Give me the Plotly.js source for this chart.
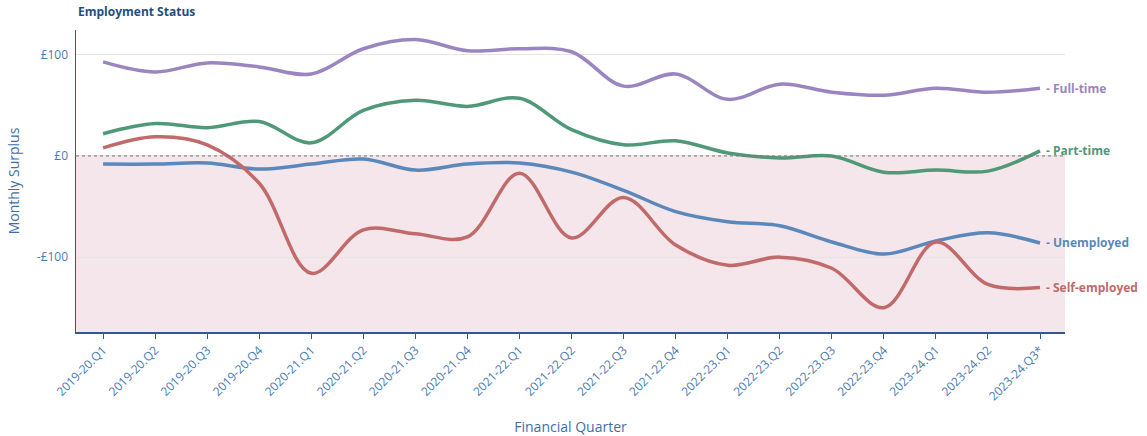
<!DOCTYPE html>
<html>
<head>
<meta charset="utf-8">
<script src="https://cdn.plot.ly/plotly-3.0.1.min.js"></script>
<style>
  body { margin: 0; }
  #chart { width: 1147px; height: 436px; }
</style>
</head>
<body>
<div id="chart"></div>
<script>
// Quarter labels along the x axis
const quarters = [
    '2019-20.Q1', '2019-20.Q2', '2019-20.Q3', '2019-20.Q4',
    '2020-21.Q1', '2020-21.Q2', '2020-21.Q3', '2020-21.Q4',
    '2021-22.Q1', '2021-22.Q2', '2021-22.Q3', '2021-22.Q4',
    '2022-23.Q1', '2022-23.Q2', '2022-23.Q3', '2022-23.Q4',
    '2023-24.Q1', '2023-24.Q2', '2023-24.Q3*'
];

// Monthly surplus (£) per employment status
const fullTime = [93, 83, 92, 88, 81, 106, 115, 104, 106, 103, 69, 81, 56, 71, 63, 60, 67, 63, 67];
const partTime = [22, 32, 28, 34, 13, 45, 55, 49, 57, 26, 11, 15, 3, -2, 0, -16, -14, -15, 5];
const unemployed = [-8, -8, -7, -13, -8, -3, -14, -8, -7, -16, -34, -55, -65, -69, -85, -97, -84, -76, -86];
const selfEmployed = [8, 19, 11, -27, -116, -73, -77, -80, -17, -81, -41, -88, -108, -100, -111, -150, -85, -127, -130];

const yTicks = [-100, 0, 100];
const yTickLabels = ['-£100', '£0', '£100'];

const series = [
    { name: 'Full-time', y: fullTime, color: '#9b85c1' },
    { name: 'Part-time', y: partTime, color: '#4f9878' },
    { name: 'Unemployed', y: unemployed, color: '#5a88bb' },
    { name: 'Self-employed', y: selfEmployed, color: '#c06a6a' }
];

const traces = series.map(s => ({
    x: quarters,
    y: s.y,
    name: s.name,
    type: 'scatter',
    mode: 'lines',
    line: { color: s.color, width: 3.5, shape: 'spline', smoothing: 1 },
    hoverinfo: 'x+y'
}));

// End-of-line labels
const labels = series.map(s => ({
    x: quarters.length - 1,
    y: s.y[s.y.length - 1],
    xref: 'x',
    yref: 'y',
    text: '- ' + s.name,
    showarrow: false,
    xanchor: 'left',
    xshift: 4,
    font: { family: 'Open Sans', size: 12, color: s.color, weight: 'bold' }
}));

labels.push({
    x: 0, y: 1, xref: 'paper', yref: 'paper',
    xanchor: 'left', yanchor: 'bottom', yshift: 8,
    text: '<b>Employment Status</b>',
    showarrow: false,
    font: { family: 'Open Sans', size: 12, color: '#1f4f82' }
});

const layout = {
    width: 1147,
    height: 436,
    margin: { l: 76, r: 82, t: 30, b: 104 },
    paper_bgcolor: '#ffffff',
    plot_bgcolor: '#ffffff',
    showlegend: false,
    font: { family: 'Open Sans', color: '#3d6fa6' },
    xaxis: {
        type: 'category',
        range: [-0.52, 18.48],
        tickangle: -45,
        ticks: 'outside',
        ticklen: 5,
        tickcolor: '#2a5b94',
        showline: true,
        linecolor: '#2a5b94',
        linewidth: 1.5,
        showgrid: false,
        tickfont: { size: 12, color: '#4a7ab2' },
        title: { text: 'Financial Quarter', font: { size: 14, color: '#3d6fa6' }, standoff: 19 }
    },
    yaxis: {
        range: [-174, 124.5],
        tickvals: yTicks,
        ticktext: yTickLabels,
        showline: true,
        linecolor: '#2a5b94',
        linewidth: 1.5,
        showgrid: true,
        gridcolor: '#e8e2e4',
        zeroline: false,
        ticks: 'outside',
        ticklen: 4,
        tickcolor: 'rgba(0,0,0,0)',
        tickfont: { size: 12, color: '#4a7ab2' },
        title: { text: 'Monthly Surplus', font: { size: 14, color: '#3d6fa6' }, standoff: 14 }
    },
    shapes: [
        {
            type: 'rect', xref: 'paper', yref: 'y', layer: 'below',
            x0: 0, x1: 1, y0: -174, y1: 0,
            fillcolor: '#f4e6eb', line: { width: 0 }
        },
        {
            type: 'line', xref: 'paper', yref: 'y', layer: 'above',
            x0: 0, x1: 1, y0: 0, y1: 0,
            line: { color: '#777777', width: 1, dash: 'dot' }
        }
    ],
    annotations: labels
};

Plotly.newPlot('chart', traces, layout, { displayModeBar: false, staticPlot: true });
</script>
</body>
</html>
